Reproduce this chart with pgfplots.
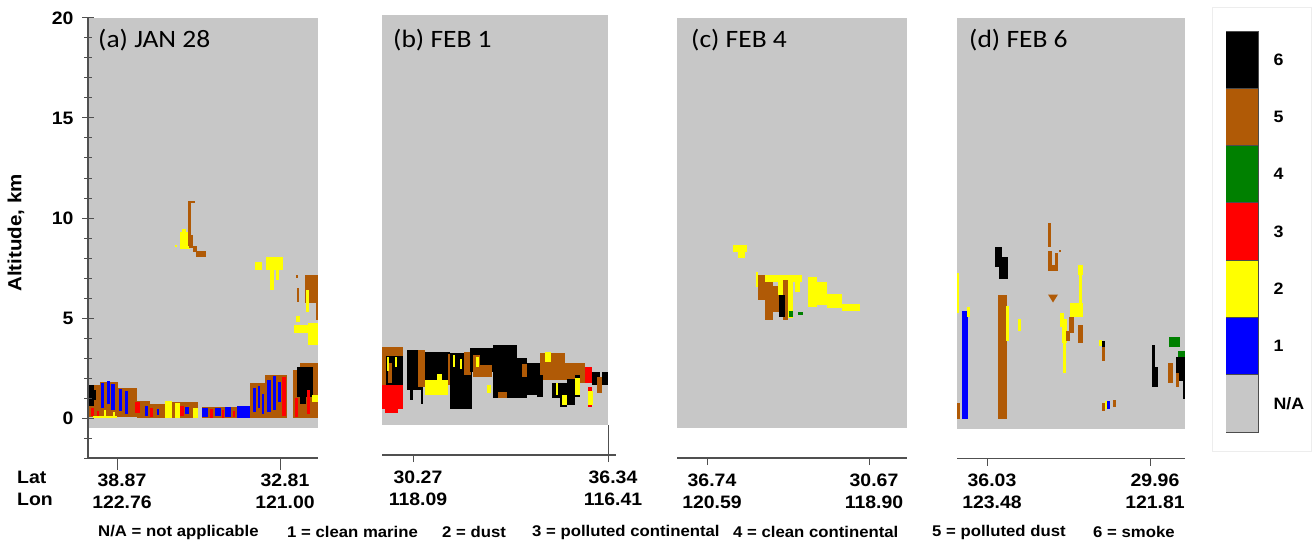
\documentclass[border=0pt]{standalone}
\usepackage{fontspec}
\setmainfont{Liberation Sans}[FakeStretch=1.08]
\newfontfamily\titlefont{Carlito}[FakeStretch=1.1]
\usepackage{pgfplots}
\usepackage{pgfplotstable}
\pgfplotsset{compat=1.18}

\definecolor{cls0}{RGB}{199,199,199}
\definecolor{cls1}{RGB}{0,0,255}
\definecolor{cls2}{RGB}{255,255,0}
\definecolor{cls3}{RGB}{255,0,0}
\definecolor{cls4}{RGB}{0,128,0}
\definecolor{cls5}{RGB}{176,90,6}
\definecolor{cls6}{RGB}{0,0,0}
\definecolor{axgray}{RGB}{80,80,80}

% x0 x1 : along-track position (px of the curtain), y0 y1 : altitude (km), c : aerosol subtype
\pgfplotstableread{
x0 x1 y0 y1 c
88 100 0.05 1.65 5
100 118 0.05 1.8 5
118 137 0.05 1.5 5
88 94 0.6 1.65 6
94 96 0.9 1.4 6
101 104 0.5 1.75 1
107 110 0.7 1.85 1
111 115 0.4 1.7 1
119 122 0.35 1.45 1
125 128 0.2 1.35 1
91 94 0.1 0.5 3
97 99 0.05 0.35 3
93 117 0.0 0.12 2
104 106 0.0 0.4 2
113 115 0.0 0.3 2
137 150 0.0 0.85 5
150 165 0.0 0.7 5
165 198 0.0 0.8 5
135 140 0.25 0.8 3
145 148 0.1 0.6 1
150 153 0.05 0.5 3
157 159 0.15 0.45 1
165 172 0.0 0.85 2
175 180 0.0 0.75 2
180 184 0.1 0.6 3
185 189 0.2 0.55 1
193 198 0.0 0.5 2
202 250 0.0 0.55 5
202 208 0.05 0.5 1
210 213 0.0 0.45 3
215 221 0.1 0.5 1
222 224 0.0 0.4 3
225 231 0.05 0.55 1
233 235 0.05 0.35 3
237 250 0.0 0.6 1
250 265 0.0 1.75 5
265 287 0.0 2.15 5
253 256 0.3 1.5 1
258 260 0.5 1.6 1
262 264 0.2 1.2 1
267 271 0.3 1.9 1
273 276 0.4 2.1 1
278 281 0.8 1.8 1
282 286 0.1 2.05 3
293 300 0.0 2.4 5
300 318 0.0 2.75 5
297 313 1.05 2.55 6
300 306 0.7 1.1 6
295 298 0.05 1.0 3
307 310 0.2 1.4 3
312 318 0.8 1.15 2
294 318 4.25 4.65 2
308 318 3.65 4.75 2
296 300 4.8 5.1 2
305 318 5.75 7.15 5
297 299 5.8 6.5 5
296 298 7.0 7.15 5
306 309 5.3 6.4 2
316 318 4.9 5.75 5
255 262 7.4 7.8 2
266 283 7.4 8.05 2
270 274 6.4 7.4 2
276 279 6.9 7.4 2
180 190 8.45 9.3 2
182 186 9.0 9.45 2
175 177 8.55 8.65 2
188 191 8.6 10.85 5
188 195 10.75 10.85 5
189 193 8.5 9.15 5
193 197 8.3 8.6 5
196 206 8.05 8.35 5
}\dataA

\pgfplotstableread{
x0 x1 y0 y1 c
382 403 1.5 3.4 5
386 403 1.3 2.95 6
388 392 1.6 2.6 5
382 403 0.3 1.5 3
385 398 0.1 0.4 3
387 389 2.2 2.9 2
395 397 2.4 2.9 2
407 423 1.25 3.25 6
410 413 0.75 1.25 6
421 423 0.55 1.25 6
418 425 1.4 3.25 5
425 450 1.5 3.15 6
425 448 1.0 1.75 2
437 442 1.75 2.05 2
448 452 1.5 3.05 5
450 472 0.3 3.1 6
453 455 2.4 3.0 2
460 462 2.3 2.8 2
464 471 2.0 3.15 5
470 517 2.15 3.35 6
473 480 1.9 3.0 5
480 492 1.9 2.5 5
476 479 2.4 2.9 2
493 517 0.85 3.5 6
487 491 1.1 1.5 2
498 507 0.85 1.15 5
517 527 0.85 2.85 6
522 528 1.9 2.55 5
527 540 1.0 2.6 6
540 565 1.75 3.1 5
565 585 1.75 2.6 5
545 551 2.65 3.15 2
537 543 0.9 2.0 6
552 560 0.85 1.6 6
560 567 0.4 1.6 6
567 575 0.5 1.8 6
575 580 0.9 2.0 6
562 567 0.5 1.0 2
575 580 1.0 1.85 2
556 558 1.0 1.6 2
580 600 1.6 2.0 5
585 592 1.6 2.4 3
588 592 0.4 1.4 3
592 600 1.5 2.15 6
602 608 1.5 2.15 6
597 602 1.1 1.9 5
588 593 0.5 1.2 2
}\dataB

\pgfplotstableread{
x0 x1 y0 y1 c
733 747 8.3 8.65 2
738 745 8.0 8.3 2
756 758 6.55 7.3 2
758 802 6.8 7.15 2
758 765 5.9 7.15 5
765 773 4.9 6.8 5
773 779 5.3 6.6 5
783 788 4.9 6.9 5
778 783 6.15 7.0 2
779 785 5.05 6.15 6
788 793 5.0 7.0 2
795 800 6.3 7.1 2
789 793 5.05 5.35 4
798 803 5.15 5.3 4
808 817 5.55 7.05 2
817 827 5.65 6.8 2
827 842 5.5 6.2 2
842 860 5.35 5.7 2
}\dataC

\pgfplotstableread{
x0 x1 y0 y1 c
957 958.5 5.3 7.3 2
957 960 0.0 0.8 5
962 968 0.0 5.4 1
967 970 5.1 5.6 2
995 1002 7.6 8.6 6
999 1008 7.0 8.1 6
998 1007 0.0 6.2 5
1006 1009 3.9 5.65 2
1018 1021 4.4 5.0 2
1048 1051 8.6 9.8 5
1048 1052 7.4 8.4 5
1048 1058 7.4 7.7 5
1055 1058 7.4 8.3 5
1059 1061 8.35 8.45 5
1078 1083 7.2 7.7 2
1079 1082 5.8 7.2 2
1070 1083 5.1 5.8 2
1060 1064 4.6 5.3 2
1062 1067 3.8 5.0 2
1063 1066 2.3 3.8 2
1069 1074 4.3 5.1 5
1078 1083 3.8 4.7 5
1066 1070 3.9 4.4 5
1102 1105 2.9 3.6 5
1102 1105 3.6 3.9 6
1099 1102 3.65 3.95 2
1102 1105 0.4 0.8 5
1105 1107 0.5 0.9 2
1107 1110 0.5 0.9 1
1113 1116 0.6 0.95 5
1152 1155 2.5 3.7 6
1152 1158 1.6 2.6 6
1169 1180 3.6 4.1 4
1178 1185 3.0 3.4 4
1176 1185 1.9 3.1 6
1183 1185 1.0 1.9 6
1168 1173 1.8 2.8 5
1176 1179 1.6 2.3 5
}\dataD

\pgfplotstableread{
x0 x1 y0 y1 c
0 1 0 1 0
0 1 1 2 1
0 1 2 3 2
0 1 3 4 3
0 1 4 5 4
0 1 5 6 5
0 1 6 7 6
}\dataBar

\newcommand\drawrects[2]{%
  \pgfplotstablegetrowsof{#1}%
  \pgfmathtruncatemacro\nlast{\pgfplotsretval-1}%
  \pgfplotsforeachungrouped \i in {0,...,\nlast}{%
    \pgfplotstablegetelem{\i}{x0}\of{#1}\let\xa\pgfplotsretval
    \pgfplotstablegetelem{\i}{x1}\of{#1}\let\xb\pgfplotsretval
    \pgfplotstablegetelem{\i}{y0}\of{#1}\let\ya\pgfplotsretval
    \pgfplotstablegetelem{\i}{y1}\of{#1}\let\yb\pgfplotsretval
    \pgfplotstablegetelem{\i}{c}\of{#1}\let\rcol\pgfplotsretval
    \edef\rectcmd{\noexpand\addplot[#2, fill=cls\rcol, forget plot]
      coordinates {(\xa,\ya) (\xb,\ya) (\xb,\yb) (\xa,\yb)};}%
    \rectcmd
  }%
}

\pgfplotsset{
  panel/.style={
    scale only axis, height=440pt, ymin=-2, ymax=20,
    anchor=south west, axis on top,
    axis x line=bottom,
    axis line style={-, axgray, line width=1.3pt},
    tick align=outside,
    major tick length=7pt, minor tick length=8pt,
    every tick/.style={axgray, line width=1pt},
    xticklabel style={font=\fontsize{18}{22}\selectfont\bfseries, align=center, xshift=5pt, yshift=-5pt},
  },
  nolefty/.style={axis y line=none, ytick=\empty},
}

\begin{document}
\begin{tikzpicture}
\useasboundingbox (0pt,0pt) rectangle (1315pt,542pt);

% (a)
\begin{axis}[panel, at={(88pt,84pt)}, width=230pt, xmin=88, xmax=318,
  axis y line=left, axis line style={-},
  major tick length=12pt,
  xticklabel style={yshift=5pt},
  ytick={0,5,10,15,20}, minor ytick={-2,-1,...,20},
  yticklabel style={font=\fontsize{18}{20}\selectfont\bfseries, xshift=-5pt},
  /pgf/number format/assume math mode=true,
  xtick={117,280},
  xticklabels={{38.87\\122.76},{32.81\\121.00}}]
\addplot[fill=cls0, draw=none, forget plot] coordinates {(88,-0.5) (318,-0.5) (318,20) (88,20)};
\drawrects{\dataA}{draw=none}
\end{axis}

% (b)
\begin{axis}[panel, nolefty, at={(382pt,87pt)}, width=234pt, xmin=382, xmax=616,
  xtick={413,608},
  xticklabels={{30.27\\118.09},{36.34\\116.41}}]
\addplot[fill=cls0, draw=none, forget plot] coordinates {(382,-0.5) (608,-0.5) (608,20) (382,20)};
\drawrects{\dataB}{draw=none}
\draw[axgray, line width=0.6pt] (axis cs:608,-2) -- (axis cs:608,-0.5);
\end{axis}

% (c)
\begin{axis}[panel, nolefty, at={(677pt,84pt)}, width=230pt, xmin=677, xmax=907,
  xtick={707,869},
  xticklabels={{36.74\\120.59},{30.67\\118.90}}]
\addplot[fill=cls0, draw=none, forget plot] coordinates {(677,-0.5) (907,-0.5) (907,20) (677,20)};
\drawrects{\dataC}{draw=none}
\end{axis}

% (d)
\begin{axis}[panel, nolefty, at={(957pt,83.5pt)}, width=228pt, xmin=957, xmax=1185,
  xtick={987,1150},
  xticklabels={{36.03\\123.48},{29.96\\121.81}}]
\addplot[fill=cls0, draw=none, forget plot] coordinates {(957,-0.5) (1185,-0.5) (1185,20) (957,20)};
\drawrects{\dataD}{draw=none}
\addplot[fill=cls5, draw=none, forget plot] coordinates {(1048,6.2) (1058,6.2) (1053,5.8)};
\end{axis}

% colour bar
\draw[black!7, line width=0.8pt] (1212pt,91pt) rectangle (1311pt,535pt);
\begin{axis}[scale only axis, at={(1226pt,110pt)}, anchor=south west,
  width=32pt, height=401pt, xmin=0, xmax=1, ymin=0, ymax=7,
  axis line style={draw=none}, xtick=\empty,
  ytick={0.5,1.5,...,6.5}, yticklabels={N/A,1,2,3,4,5,6},
  yticklabel pos=right, major tick length=0pt, tick style={draw=none},
  yticklabel style={font=\fontsize{16.5}{18}\selectfont\bfseries, anchor=west, xshift=12pt},
  clip=false]
\drawrects{\dataBar}{draw=black!70, line width=0.9pt}
\end{axis}

% titles and labels
\begin{scope}[every node/.style={inner sep=0pt}]
\node[anchor=west, font=\titlefont\fontsize{25}{28}\selectfont] at (98pt,502pt) {(a) JAN 28};
\node[anchor=west, font=\titlefont\fontsize{25}{28}\selectfont] at (393pt,502pt) {(b) FEB 1};
\node[anchor=west, font=\titlefont\fontsize{25}{28}\selectfont] at (691pt,502pt) {(c) FEB 4};
\node[anchor=west, font=\titlefont\fontsize{25}{28}\selectfont] at (969pt,502pt) {(d) FEB 6};
\node[rotate=90, font=\fontsize{19}{22}\selectfont\bfseries] at (16pt,309pt) {Altitude, km};
\node[anchor=west, font=\fontsize{18}{22}\selectfont\bfseries] at (17pt,65pt) {Lat};
\node[anchor=west, font=\fontsize{18}{22}\selectfont\bfseries] at (17pt,42.5pt) {Lon};
\foreach \xx/\tt in {98/{N/A = not applicable}, 287/{1 = clean marine}, 442/{2 = dust},
  532/{3 = polluted continental}, 733/{4 = clean continental}, 932/{5 = polluted dust}, 1093/{6 = smoke}}{
  \node[anchor=west, font=\fontsize{15.5}{18}\selectfont\bfseries] at (\xx pt,10pt) {\tt};
}
\end{scope}
\end{tikzpicture}
\end{document}
